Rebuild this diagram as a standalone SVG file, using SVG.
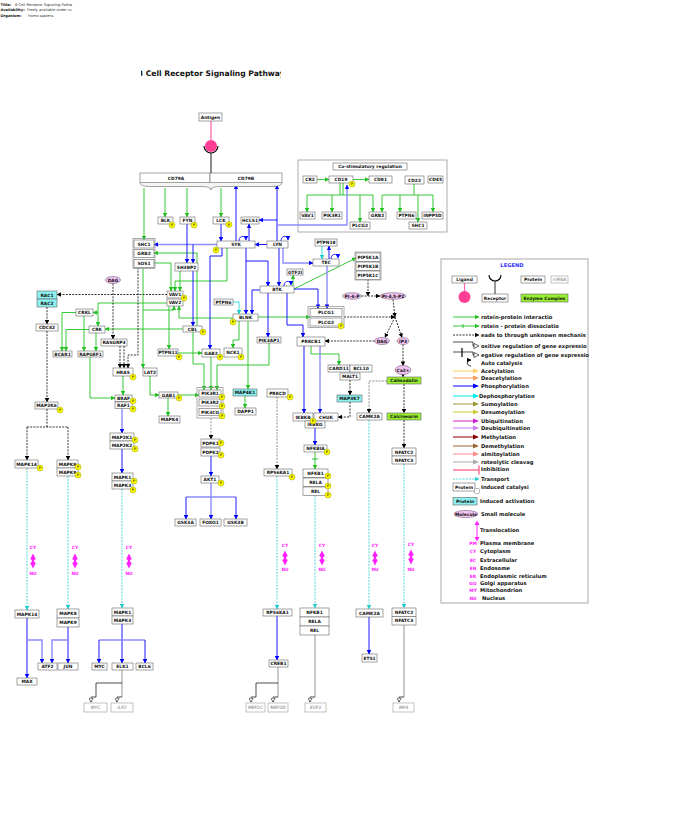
<svg xmlns="http://www.w3.org/2000/svg" width="698" height="814" viewBox="0 0 698 814">
<style>
.b{fill:#fff;stroke:#666;stroke-width:.6}
.cy{fill:#8ef0f0;stroke:#666;stroke-width:.6}
.gr{fill:#99ee33;stroke:#666;stroke-width:.6}
.sm{fill:#f2c4f2;stroke:#806080;stroke-width:.6}
.grp{fill:none;stroke:#999;stroke-width:.8}
.t{font-family:"DejaVu Sans",sans-serif;font-weight:bold;font-size:4.4px;text-anchor:middle;fill:#111}
.gt{font-family:"DejaVu Sans",sans-serif;font-style:italic;font-size:4.4px;text-anchor:middle;fill:#777}
.pc{fill:#ffff00;stroke:#999900;stroke-width:.5}
.pt{font-family:"DejaVu Sans",sans-serif;font-weight:bold;font-size:3.4px;text-anchor:middle;fill:#666600}
.G{fill:none;stroke:#22c022;stroke-width:.9;marker-end:url(#aG)}
.g{fill:none;stroke:#22c022;stroke-width:.9}
.B{fill:none;stroke:#0000ff;stroke-width:.9;marker-end:url(#aB)}
.L{fill:none;stroke:#8c8cff;stroke-width:1.4;marker-end:url(#aB)}
.l{fill:none;stroke:#8c8cff;stroke-width:1.4}
.K{fill:none;stroke:#000;stroke-width:.8;stroke-dasharray:2 1.2;marker-end:url(#aK)}
.k{fill:none;stroke:#000;stroke-width:.8;stroke-dasharray:2 1.2}
.Kg{fill:none;stroke:#777;stroke-width:.8;stroke-dasharray:2 1.2;marker-end:url(#aK)}
.C{fill:none;stroke:#22cccc;stroke-width:.8;stroke-dasharray:2 1.2;marker-end:url(#aC)}
.Cs{fill:none;stroke:#22dddd;stroke-width:.9;marker-end:url(#aC)}
.E{fill:none;stroke:#888;stroke-width:.9}
.e{fill:none;stroke:#000;stroke-width:.7}
.eo{fill:none;stroke:#000;stroke-width:.7;marker-end:url(#aO)}
.mg{font-family:"DejaVu Sans",sans-serif;font-weight:bold;font-size:4.4px;text-anchor:middle;fill:#ff22ff}
.lt{font-family:"DejaVu Sans",sans-serif;font-weight:bold;font-size:5.2px;fill:#111}
.hd{font-family:"DejaVu Sans",sans-serif;font-size:3.6px;fill:#333}
.hb{font-family:"DejaVu Sans",sans-serif;font-weight:bold;font-size:3.6px;fill:#111}
</style>
<defs>
<marker id="aG" viewBox="0 0 6 6" refX="5.5" refY="3" markerWidth="4.5" markerHeight="4.5" markerUnits="userSpaceOnUse" orient="auto"><path d="M0,0L6,3L0,6z" fill="#22c022"/></marker>
<marker id="aB" viewBox="0 0 6 6" refX="5.5" refY="3" markerWidth="4.5" markerHeight="4.5" markerUnits="userSpaceOnUse" orient="auto"><path d="M0,0L6,3L0,6z" fill="#0000ff"/></marker>
<marker id="aK" viewBox="0 0 6 6" refX="5.5" refY="3" markerWidth="4.5" markerHeight="4.5" markerUnits="userSpaceOnUse" orient="auto"><path d="M0,0L6,3L0,6z" fill="#000"/></marker>
<marker id="aC" viewBox="0 0 6 6" refX="5.5" refY="3" markerWidth="4.5" markerHeight="4.5" markerUnits="userSpaceOnUse" orient="auto"><path d="M0,0L6,3L0,6z" fill="#22cccc"/></marker>
<marker id="aO" viewBox="0 0 7 7" refX="6" refY="3.5" markerWidth="5" markerHeight="5" markerUnits="userSpaceOnUse" orient="auto"><path d="M0.5,0.5L6,3.5L0.5,6.5z" fill="#fff" stroke="#000" stroke-width=".8"/></marker>
<path id="tr" d="M0,-7.5L2.8,-2L1.2,-1L1.2,1L2.8,2L0,7.5L-2.8,2L-1.2,1L-1.2,-1L-2.8,-2Z" fill="#ff22ff"/>
<clipPath id="ctitle"><rect x="141" y="60" width="140" height="20"/></clipPath>
</defs>
<rect width="698" height="814" fill="#fff"/>

<g id="header">
<text x="0.5" y="5.5" class="hb">Title:</text><text x="15" y="5.5" class="hd">B Cell Receptor Signaling Pathw</text>
<text x="0.5" y="11" class="hb">Availability:</text><text x="27" y="11" class="hd">Freely available under cc</text>
<text x="0.5" y="16.5" class="hb">Organism:</text><text x="28" y="16.5" class="hd">Homo sapiens</text>
</g>
<g id="title" clip-path="url(#ctitle)"><text x="211" y="76" font-family="DejaVu Sans, sans-serif" font-weight="bold" font-size="7.6" text-anchor="middle" fill="#111">B Cell Receptor Signaling Pathway</text></g>

<g id="costim-box"><rect x="298" y="160" width="149" height="72" fill="none" stroke="#999" stroke-width=".8"/>
<rect x="333" y="163" width="74" height="7" class="b"/><text x="370" y="168.1" class="t">Co-stimulatory regulation</text></g>

<g id="connectors">
<path d="M211 121V140" stroke="#ff66aa" stroke-width="1.3" fill="none"/>
<path d="M204 146A7 7 0 0 0 218 146" stroke="#000" stroke-width="1.1" fill="none"/>
<path d="M211 153V173" stroke="#000" stroke-width=".9"/>
<!-- green -->
<path class="G" d="M144 188V240"/>
<path class="G" d="M165 188V217"/>
<path class="G" d="M187 188V217"/>
<path class="G" d="M221 188V217"/>
<path class="G" d="M317 179.5H329"/>
<path class="G" d="M353 179.5H369"/>
<path class="g" d="M340 183V195M343 183V195M307 195H373"/>
<path class="G" d="M307 195V212"/><path class="G" d="M332 195V212"/><path class="G" d="M360 195V222"/><path class="G" d="M373 195V212"/>
<path class="g" d="M414 184V195M382 195H433"/>
<path class="G" d="M382 195V212"/><path class="G" d="M400 195V212"/><path class="G" d="M418 195V222"/><path class="G" d="M433 195V212"/>
<path class="G" d="M154 263H171V291"/>
<path class="G" d="M180 271V291"/>
<path class="G" d="M227 248V281H175V291"/>
<path class="G" d="M197 326V253H154"/>
<path class="G" d="M143 267.5V368"/>
<path class="G" d="M143 310H174V306"/>
<path class="G" d="M233 318H179V306"/>
<path class="G" d="M169 306V349"/>
<path class="G" d="M167 303H98V326"/>
<path class="G" d="M98 312.5H93"/>
<path class="G" d="M183 329H105"/>
<path class="G" d="M76 312.5H62V351"/>
<path class="G" d="M89 329.5H66V351"/>
<path class="G" d="M84 316V351"/>
<path class="G" d="M96 333V351"/>
<path class="G" d="M123 376V395"/>
<path class="G" d="M90 357V398H115"/>
<path class="G" d="M150 376V395H159"/>
<path class="G" d="M168 398V416"/>
<path class="G" d="M178 395H199"/>
<path class="G" d="M178 353H202"/>
<path class="G" d="M211 357V390"/>
<path class="G" d="M193 332V364H204V390"/>
<path class="G" d="M269 343V365H217V390"/>
<path class="G" d="M239 321V340H233V348"/>
<path class="G" d="M248 321V389"/>
<path class="G" d="M245 396V408"/>
<path class="G" d="M258 317H310"/>
<path class="G" d="M293 286V275"/>
<path class="G" d="M294 289L356 258"/>
<path class="G" d="M311 346V354H339V365"/>
<path class="G" d="M315 452V469"/><path class="g" d="M312 459H318"/>
<!-- blue -->
<path class="B" d="M236 241V185"/>
<path class="B" d="M277 241V185"/>
<path class="B" d="M277 220H259"/>
<path class="B" d="M249 241V224"/>
<path class="B" d="M267 244.5H255"/>
<path class="L" d="M217 244.5H154"/>
<path class="B" d="M221 224V241"/>
<path class="B" d="M187 224V263"/>
<path class="B" d="M193 244.5V263"/>
<path class="B" d="M193 271V326"/>
<path class="B" d="M222 248V256H210V349"/>
<path class="B" d="M246 248V314"/>
<path class="B" d="M246 261H268V286"/>
<path class="B" d="M279 248V286"/>
<path class="L" d="M283 248V263H313"/>
<path class="L" d="M277 225H347V185"/>
<path class="B" d="M294 289H318V308.5"/>
<path class="L" d="M327 266V308.5"/>
<path class="B" d="M329 259V246"/>
<path class="B" d="M287 293V325H303V337"/>
<path class="B" d="M268 293V337"/>
<path class="B" d="M260 290H252V314"/>
<path class="B" d="M304 346V413"/>
<path class="L" d="M320 346V413"/>
<path class="B" d="M315 428V445"/>
<path class="L" d="M122 408.5V433"/>
<path class="B" d="M122 449V473"/>
<path class="B" d="M211 456V476"/>
<path class="l" d="M211 483V497M186 497H236"/>
<path class="B" d="M186 497V519"/><path class="L" d="M211 497V519"/><path class="B" d="M236 497V519"/>
<path class="B" d="M27 618V678"/><path class="L" d="M27 640H42V663"/>
<path class="B" d="M68 627V663"/><path class="L" d="M68 640H52V663"/>
<path class="B" d="M122 624V663"/><path class="l" d="M99 640H145"/><path class="B" d="M99 640V663"/><path class="B" d="M145 640V663"/>
<path class="B" d="M277 616V660"/>
<path class="B" d="M369 617V654"/>
<path class="B" d="M239 241c0-6 7-6 7-1"/>
<path class="B" d="M281 241c0-6 7-6 7-1"/>
<path class="B" d="M284 286c0-6 7-6 7-1"/>
<path class="B" d="M331 259c0-6 7-6 7-1"/>
<!-- cyan -->
<path class="Cs" d="M322 246V259"/>
<path class="Cs" d="M233 302H239V314"/>
<path class="C" d="M27 468V610"/>
<path class="C" d="M68 476V609"/>
<path class="C" d="M122 489V608"/>
<path class="C" d="M277 476V609"/>
<path class="C" d="M315 495.5V608"/>
<path class="C" d="M369 420V609"/>
<path class="C" d="M404 464V608"/>
<!-- black dashed -->
<path class="K" d="M167 294.5H57"/>
<path class="K" d="M47 307V324"/>
<path class="K" d="M47 331V402"/>
<path class="k" d="M47 409V427M27 427H68"/>
<path class="K" d="M27 427V460"/><path class="K" d="M68 427V460"/>
<path class="K" d="M113 283.5V339"/>
<path class="K" d="M120 346V368"/><path class="K" d="M124 346V368"/>
<path class="K" d="M138 267.5V355H128V368"/>
<path class="K" d="M361.5 296H380"/>
<path class="K" d="M368 279.5V296"/>
<path class="K" d="M344 317H395"/>
<path class="K" d="M393 299.5L395 317"/>
<path class="K" d="M395 317L385 337.5"/>
<path class="K" d="M395 317L402 337.5"/>
<path class="K" d="M374.5 341H325"/>
<path class="K" d="M403 344.5V365.5"/>
<path class="K" d="M403 374.5V377"/>
<path class="K" d="M404 384V413"/>
<path class="Kg" d="M387 381H369V413"/>
<path class="K" d="M350 380V395"/>
<path class="K" d="M350 402V417H338"/>
<path class="K" d="M404 420V448"/>
<path class="Kg" d="M277 397V469"/>
<path class="Kg" d="M211 418V439"/>
<!-- gene expression -->
<path class="E" d="M122 670V697M278 667V697M315 635V697M404 625V697"/>
<path class="e" d="M122 683H96V697M278 683H256V697"/>
<path class="eo" d="M96 697H91V702"/>
<path class="eo" d="M122 697H117V702"/>
<path class="eo" d="M256 697H251V702"/>
<path class="eo" d="M278 697H273V702"/>
<path class="eo" d="M315 697H310V702"/>
<path class="eo" d="M404 697H399V702"/>
</g>

<g id="translocations">
<text x="33" y="549" class="mg">CY</text><use href="#tr" x="33" y="561"/><text x="33" y="575" class="mg">NU</text>
<text x="75" y="549" class="mg">CY</text><use href="#tr" x="75" y="561"/><text x="75" y="575" class="mg">NU</text>
<text x="129" y="549" class="mg">CY</text><use href="#tr" x="129" y="561"/><text x="129" y="575" class="mg">NU</text>
<text x="285" y="547" class="mg">CY</text><use href="#tr" x="285" y="558"/><text x="285" y="571" class="mg">NU</text>
<text x="322" y="547" class="mg">CY</text><use href="#tr" x="322" y="558"/><text x="322" y="571" class="mg">NU</text>
<text x="375" y="547" class="mg">CY</text><use href="#tr" x="375" y="558"/><text x="375" y="571" class="mg">NU</text>
<text x="411" y="546" class="mg">CY</text><use href="#tr" x="411" y="557"/><text x="411" y="571" class="mg">NU</text>
</g>

<g id="Antigen"><rect x="199" y="113" width="23" height="8" class="b"/><text x="210.5" y="118.6" class="t">Antigen</text><circle cx="211" cy="146" r="6" fill="#ff3f96"/></g>
<g id="CD79"><path d="M140 182.5Q140 186.5 150 186.5H202Q211 186.5 211 190Q211 186.5 220 186.5H272Q282 186.5 282 182.5" fill="#f4f4f4" stroke="#666" stroke-width=".6"/><rect x="140" y="173" width="70" height="9.5" class="b"/><rect x="210" y="173" width="72" height="9.5" class="b"/><text x="176" y="179.5" class="t">CD79A</text><text x="246" y="179.5" class="t">CD79B</text></g>
<g id="BLK"><rect x="158" y="217" width="15" height="7" class="b"/><text x="165.5" y="222.1" class="t">BLK</text><circle cx="172" cy="225" r="3" class="pc"/><text x="172" y="226.2" class="pt">P</text></g>
<g id="FYN"><rect x="180" y="217" width="15" height="7" class="b"/><text x="187.5" y="222.1" class="t">FYN</text><circle cx="194" cy="225" r="3" class="pc"/><text x="194" y="226.2" class="pt">P</text></g>
<g id="LCK"><rect x="213" y="217" width="16" height="7" class="b"/><text x="221" y="222.1" class="t">LCK</text><circle cx="229" cy="224.5" r="3" class="pc"/><text x="229" y="225.7" class="pt">P</text></g>
<g id="HCLS1"><rect x="241" y="217" width="18" height="7" class="b"/><text x="250" y="222.1" class="t">HCLS1</text></g>
<g id="SYK"><rect x="217" y="241" width="38" height="7" class="b"/><text x="236" y="246.1" class="t">SYK</text><circle cx="216" cy="250" r="3" class="pc"/><text x="216" y="251.2" class="pt">P</text></g>
<g id="LYN"><rect x="267" y="241" width="21" height="7" class="b"/><text x="277.5" y="246.1" class="t">LYN</text></g>
<g id="SHC1-GRB2-SOS1"><rect x="133" y="238.5" width="22" height="30" class="grp"/><rect x="134" y="240" width="20" height="8" class="b"/><text x="144" y="245.6" class="t">SHC1</text><rect x="134" y="249.5" width="20" height="8" class="b"/><text x="144" y="255.1" class="t">GRB2</text><rect x="134" y="259.5" width="20" height="8" class="b"/><text x="144" y="265.1" class="t">SOS1</text></g>
<g id="SH3BP2"><rect x="175" y="263" width="23" height="8" class="b"/><text x="186.5" y="268.6" class="t">SH3BP2</text></g>
<g id="PTPN18"><rect x="315" y="239" width="22" height="7" class="b"/><text x="326" y="244.1" class="t">PTPN18</text></g>
<g id="TEC"><rect x="313" y="259" width="26" height="7" class="b"/><text x="326" y="264.1" class="t">TEC</text></g>
<g id="GTF2I"><rect x="287" y="269" width="16" height="6" class="b"/><text x="295" y="273.6" class="t">GTF2I</text></g>
<g id="PIP5K1"><rect x="355" y="252" width="26" height="28" class="grp"/><rect x="356" y="253" width="24" height="8.5" class="b"/><text x="368" y="258.8" class="t">PIP5K1A</text><rect x="356" y="262" width="24" height="8.5" class="b"/><text x="368" y="267.8" class="t">PIP5K1B</text><rect x="356" y="271" width="24" height="8.5" class="b"/><text x="368" y="276.8" class="t">PIP5K1C</text></g>
<g id="BTK"><rect x="260" y="286" width="34" height="7" class="b"/><text x="277" y="291.1" class="t">BTK</text></g>
<g id="PI4P"><ellipse cx="352" cy="296" rx="9.5" ry="3.3" class="sm"/><text x="352" y="297.5" class="t">PI-4-P</text></g>
<g id="PI45P2"><ellipse cx="393" cy="296" rx="13" ry="3.3" class="sm"/><text x="393" y="297.5" class="t">PI-4,5-P2</text></g>
<g id="CR2"><rect x="303" y="176" width="14" height="7" class="b"/><text x="310" y="181.1" class="t">CR2</text></g>
<g id="CD19"><rect x="329" y="176" width="24" height="7" class="b"/><text x="341" y="181.1" class="t">CD19</text><circle cx="352" cy="184" r="3" class="pc"/><text x="352" y="185.2" class="pt">P</text></g>
<g id="CD81"><rect x="369" y="176" width="23" height="7" class="b"/><text x="380.5" y="181.1" class="t">CD81</text></g>
<g id="CD22"><rect x="405" y="176" width="19" height="8" class="b"/><text x="414.5" y="181.6" class="t">CD22</text></g>
<g id="CD45"><rect x="428" y="176" width="15" height="7" class="b"/><text x="435.5" y="181.1" class="t">CD45</text></g>
<g id="VAV1-cs"><rect x="300" y="212" width="15" height="7" class="b"/><text x="307.5" y="217.1" class="t">VAV1</text></g>
<g id="PIK3R1-cs"><rect x="322" y="212" width="20" height="7" class="b"/><text x="332" y="217.1" class="t">PIK3R1</text></g>
<g id="PLCG2-cs"><rect x="350" y="222" width="20" height="7" class="b"/><text x="360" y="227.1" class="t">PLCG2</text></g>
<g id="GRB2-cs"><rect x="369" y="212" width="17" height="7" class="b"/><text x="377.5" y="217.1" class="t">GRB2</text></g>
<g id="PTPN6-cs"><rect x="397" y="212" width="19" height="7" class="b"/><text x="406.5" y="217.1" class="t">PTPN6</text></g>
<g id="SHC1-cs"><rect x="409" y="222" width="18" height="7" class="b"/><text x="418" y="227.1" class="t">SHC1</text></g>
<g id="INPP5D"><rect x="422" y="212" width="21" height="7" class="b"/><text x="432.5" y="217.1" class="t">INPP5D</text></g>
<g id="RAC1-RAC2"><rect x="37" y="291" width="20" height="8" class="cy"/><text x="47" y="296.6" class="t">RAC1</text><rect x="37" y="299" width="20" height="8" class="cy"/><text x="47" y="304.6" class="t">RAC2</text></g>
<g id="DAG-1"><ellipse cx="113" cy="280" rx="7.5" ry="3.5" class="sm"/><text x="113" y="281.6" class="t">DAG</text></g>
<g id="VAV1-VAV2"><rect x="167" y="291" width="16" height="7" class="b"/><text x="175" y="296.1" class="t">VAV1</text><rect x="167" y="299" width="16" height="7" class="b"/><text x="175" y="304.1" class="t">VAV2</text><circle cx="184" cy="298" r="3" class="pc"/><text x="184" y="299.2" class="pt">P</text></g>
<g id="PTPN6"><rect x="214" y="299" width="19" height="6" class="b"/><text x="223.5" y="303.6" class="t">PTPN6</text></g>
<g id="CRKL"><rect x="76" y="309" width="17" height="7" class="b"/><text x="84.5" y="314.1" class="t">CRKL</text></g>
<g id="PLCG1-PLCG2"><rect x="308" y="306.5" width="36" height="21" class="grp"/><rect x="310" y="308.5" width="32" height="8" class="b"/><text x="326" y="314.1" class="t">PLCG1</text><rect x="310" y="318" width="32" height="8" class="b"/><text x="326" y="323.6" class="t">PLCG2</text><circle cx="341" cy="326" r="3" class="pc"/><text x="341" y="327.2" class="pt">P</text></g>
<g id="BLNK"><rect x="233" y="314" width="25" height="7" class="b"/><text x="245.5" y="319.1" class="t">BLNK</text><circle cx="233" cy="322" r="3" class="pc"/><text x="233" y="323.2" class="pt">P</text></g>
<g id="CDC42"><rect x="36" y="324" width="22" height="7" class="b"/><text x="47" y="329.1" class="t">CDC42</text></g>
<g id="CRK"><rect x="89" y="326" width="16" height="7" class="b"/><text x="97" y="331.1" class="t">CRK</text></g>
<g id="CBL"><rect x="183" y="326" width="19" height="6" class="b"/><text x="192.5" y="330.6" class="t">CBL</text><circle cx="203" cy="332" r="3" class="pc"/><text x="203" y="333.2" class="pt">P</text></g>
<g id="RASGRP3"><rect x="101" y="339" width="26" height="7" class="b"/><text x="114" y="344.1" class="t">RASGRP3</text></g>
<g id="PIK3AP1"><rect x="257" y="337" width="24" height="6" class="b"/><text x="269" y="341.6" class="t">PIK3AP1</text></g>
<g id="PRKCB1"><rect x="297" y="337" width="28" height="9" class="b"/><text x="311" y="343.1" class="t">PRKCB1</text></g>
<g id="DAG-2"><ellipse cx="382" cy="341" rx="7.5" ry="3.5" class="sm"/><text x="382" y="342.6" class="t">DAG</text></g>
<g id="IP3"><ellipse cx="403" cy="341" rx="6" ry="3.5" class="sm"/><text x="403" y="342.6" class="t">IP3</text></g>
<g id="PTPN11"><rect x="158" y="349" width="20" height="7" class="b"/><text x="168" y="354.1" class="t">PTPN11</text><circle cx="179" cy="357" r="3" class="pc"/><text x="179" y="358.2" class="pt">P</text></g>
<g id="GAB2"><rect x="202" y="349" width="18" height="8" class="b"/><text x="211" y="354.6" class="t">GAB2</text><circle cx="220" cy="357" r="3" class="pc"/><text x="220" y="358.2" class="pt">P</text></g>
<g id="NCK1"><rect x="224" y="348" width="18" height="9" class="b"/><text x="233" y="354.1" class="t">NCK1</text><circle cx="241" cy="357" r="3" class="pc"/><text x="241" y="358.2" class="pt">P</text></g>
<g id="BCAR1"><rect x="53" y="351" width="19" height="6" class="b"/><text x="62.5" y="355.6" class="t">BCAR1</text></g>
<g id="RAPGEF1"><rect x="78" y="351" width="25" height="6" class="b"/><text x="90.5" y="355.6" class="t">RAPGEF1</text></g>
<g id="CARD11-BCL10-MALT1"><rect x="328" y="365" width="22" height="7" class="b"/><text x="339" y="370.1" class="t">CARD11</text><rect x="350" y="365" width="22" height="7" class="b"/><text x="361" y="370.1" class="t">BCL10</text><rect x="340" y="373" width="20" height="7" class="b"/><text x="350" y="378.1" class="t">MALT1</text></g>
<g id="Ca2"><ellipse cx="403" cy="370" rx="8" ry="4.5" class="sm"/><text x="403" y="371.6" class="t">Ca2+</text></g>
<g id="HRAS"><rect x="113" y="368" width="20" height="8" class="b"/><text x="123" y="373.6" class="t">HRAS</text><circle cx="133" cy="377" r="3" class="pc"/><text x="133" y="378.2" class="pt">P</text></g>
<g id="LAT2"><rect x="143" y="368" width="14" height="8" class="b"/><text x="150" y="373.6" class="t">LAT2</text></g>
<g id="Calmodulin"><rect x="387" y="377" width="34" height="7" class="gr"/><text x="404" y="382.1" class="t">Calmodulin</text></g>
<g id="PRKCD"><rect x="267" y="389" width="21" height="8" class="b"/><text x="277.5" y="394.6" class="t">PRKCD</text><circle cx="290" cy="397" r="3" class="pc"/><text x="290" y="398.2" class="pt">P</text></g>
<g id="MAP4K1"><rect x="233" y="389" width="24" height="7" class="cy"/><text x="245" y="394.1" class="t">MAP4K1</text></g>
<g id="GAB1"><rect x="159" y="392" width="19" height="6" class="b"/><text x="168.5" y="396.6" class="t">GAB1</text><circle cx="179" cy="398" r="3" class="pc"/><text x="179" y="399.2" class="pt">P</text></g>
<g id="PIK3"><rect x="197" y="387.5" width="26" height="30.5" class="grp"/><rect x="199" y="390" width="22" height="7" class="b"/><text x="210" y="395.1" class="t">PIK3R1</text><rect x="199" y="399" width="22" height="7" class="b"/><text x="210" y="404.1" class="t">PIK3R2</text><rect x="199" y="408.5" width="22" height="7" class="b"/><text x="210" y="413.6" class="t">PIK3CG</text><circle cx="222" cy="397" r="3" class="pc"/><text x="222" y="398.2" class="pt">P</text><circle cx="222" cy="406" r="3" class="pc"/><text x="222" y="407.2" class="pt">P</text><circle cx="222" cy="416" r="3" class="pc"/><text x="222" y="417.2" class="pt">P</text></g>
<g id="MAP3K7"><rect x="337" y="395" width="25" height="7" class="cy"/><text x="349.5" y="400.1" class="t">MAP3K7</text></g>
<g id="BRAF-RAF1"><rect x="115" y="395" width="17" height="6.5" class="b"/><text x="123.5" y="399.9" class="t">BRAF</text><rect x="115" y="402" width="17" height="6.5" class="b"/><text x="123.5" y="406.9" class="t">RAF1</text><circle cx="133" cy="401" r="3" class="pc"/><text x="133" y="402.2" class="pt">P</text><circle cx="133" cy="409" r="3" class="pc"/><text x="133" y="410.2" class="pt">P</text></g>
<g id="MAP2K6"><rect x="35" y="402" width="23" height="7" class="b"/><text x="46.5" y="407.1" class="t">MAP2K6</text><circle cx="60" cy="410" r="3" class="pc"/><text x="60" y="411.2" class="pt">P</text></g>
<g id="DAPP1"><rect x="235" y="408" width="21" height="7" class="b"/><text x="245.5" y="413.1" class="t">DAPP1</text></g>
<g id="CAMK2A"><rect x="357" y="413" width="25" height="7" class="b"/><text x="369.5" y="418.1" class="t">CAMK2A</text></g>
<g id="Calcineurin"><rect x="387" y="413" width="34" height="7" class="gr"/><text x="404" y="418.1" class="t">Calcineurin</text></g>
<g id="IKK"><rect x="293" y="413" width="20" height="8" class="b"/><text x="303" y="418.6" class="t">IKBKB</text><rect x="314" y="413" width="24" height="8" class="b"/><text x="326" y="418.6" class="t">CHUK</text><rect x="305" y="421" width="20" height="7" class="b"/><text x="315" y="426.1" class="t">IKBKG</text><circle cx="313" cy="421" r="3" class="pc"/><text x="313" y="422.2" class="pt">P</text></g>
<g id="MAPK4"><rect x="159" y="416" width="21" height="7" class="b"/><text x="169.5" y="421.1" class="t">MAPK4</text></g>
<g id="MAP2K1-MAP2K2"><rect x="110" y="433" width="24" height="8" class="b"/><text x="122" y="438.6" class="t">MAP2K1</text><rect x="110" y="441" width="24" height="8" class="b"/><text x="122" y="446.6" class="t">MAP2K2</text><circle cx="135" cy="440" r="3" class="pc"/><text x="135" y="441.2" class="pt">P</text><circle cx="135" cy="449" r="3" class="pc"/><text x="135" y="450.2" class="pt">P</text></g>
<g id="PDPK"><rect x="201" y="439" width="19" height="8" class="b"/><text x="210.5" y="444.6" class="t">PDPK1</text><rect x="201" y="448" width="19" height="8" class="b"/><text x="210.5" y="453.6" class="t">PDPK2</text><circle cx="221" cy="443" r="3" class="pc"/><text x="221" y="444.2" class="pt">P</text><circle cx="221" cy="455" r="3" class="pc"/><text x="221" y="456.2" class="pt">P</text></g>
<g id="NFKBIA"><rect x="304" y="445" width="23" height="7" class="b"/><text x="315.5" y="450.1" class="t">NFKBIA</text><circle cx="327" cy="452" r="3" class="pc"/><text x="327" y="453.2" class="pt">P</text></g>
<g id="NFATC-cy"><rect x="392" y="448" width="24" height="8" class="b"/><text x="404" y="453.6" class="t">NFATC2</text><rect x="392" y="456" width="24" height="8" class="b"/><text x="404" y="461.6" class="t">NFATC3</text></g>
<g id="MAPK14-cy"><rect x="15" y="460" width="23" height="8" class="b"/><text x="26.5" y="465.6" class="t">MAPK14</text><circle cx="40" cy="468" r="3" class="pc"/><text x="40" y="469.2" class="pt">P</text></g>
<g id="MAPK8-cy"><rect x="57" y="460" width="21" height="8" class="b"/><text x="67.5" y="465.6" class="t">MAPK8</text><rect x="57" y="468" width="21" height="8" class="b"/><text x="67.5" y="473.6" class="t">MAPK9</text><circle cx="78" cy="467" r="3" class="pc"/><text x="78" y="468.2" class="pt">P</text><circle cx="78" cy="475" r="3" class="pc"/><text x="78" y="476.2" class="pt">P</text></g>
<g id="NFKB-cy"><rect x="303" y="469" width="25" height="8.5" class="b"/><text x="315.5" y="474.8" class="t">NFKB1</text><rect x="303" y="478" width="25" height="8.5" class="b"/><text x="315.5" y="483.8" class="t">RELA</text><rect x="303" y="487" width="25" height="8.5" class="b"/><text x="315.5" y="492.8" class="t">REL</text><circle cx="328" cy="476" r="3" class="pc"/><text x="328" y="477.2" class="pt">P</text><circle cx="328" cy="486" r="3" class="pc"/><text x="328" y="487.2" class="pt">P</text><circle cx="328" cy="495" r="3" class="pc"/><text x="328" y="496.2" class="pt">P</text></g>
<g id="RPS6KA1-cy"><rect x="264" y="469" width="28" height="7" class="b"/><text x="278" y="474.1" class="t">RPS6KA1</text><circle cx="292" cy="477" r="3" class="pc"/><text x="292" y="478.2" class="pt">P</text></g>
<g id="MAPK1-cy"><rect x="112" y="473" width="21" height="8" class="b"/><text x="122.5" y="478.6" class="t">MAPK1</text><rect x="112" y="481" width="21" height="8" class="b"/><text x="122.5" y="486.6" class="t">MAPK3</text><circle cx="134" cy="481" r="3" class="pc"/><text x="134" y="482.2" class="pt">P</text><circle cx="133" cy="490" r="3" class="pc"/><text x="133" y="491.2" class="pt">P</text></g>
<g id="AKT1"><rect x="201" y="476" width="18" height="7" class="b"/><text x="210" y="481.1" class="t">AKT1</text><circle cx="221" cy="483" r="3" class="pc"/><text x="221" y="484.2" class="pt">P</text></g>
<g id="GSK3A"><rect x="175" y="519" width="21" height="7" class="b"/><text x="185.5" y="524.1" class="t">GSK3A</text></g>
<g id="FOXO1"><rect x="200" y="519" width="21" height="7" class="b"/><text x="210.5" y="524.1" class="t">FOXO1</text></g>
<g id="GSK3B"><rect x="224" y="519" width="23" height="7" class="b"/><text x="235.5" y="524.1" class="t">GSK3B</text></g>
<g id="MAPK14-nu"><rect x="15" y="610" width="24" height="8" class="b"/><text x="27" y="615.6" class="t">MAPK14</text></g>
<g id="MAPK8-nu"><rect x="57" y="609" width="22" height="9" class="b"/><text x="68" y="615.1" class="t">MAPK8</text><rect x="57" y="618" width="22" height="9" class="b"/><text x="68" y="624.1" class="t">MAPK9</text></g>
<g id="MAPK1-nu"><rect x="112" y="608" width="21" height="8" class="b"/><text x="122.5" y="613.6" class="t">MAPK1</text><rect x="112" y="616" width="21" height="8" class="b"/><text x="122.5" y="621.6" class="t">MAPK3</text></g>
<g id="RPS6KA1-nu"><rect x="263" y="609" width="29" height="7" class="b"/><text x="277.5" y="614.1" class="t">RPS6KA1</text></g>
<g id="NFKB-nu"><rect x="300" y="608" width="29" height="9" class="b"/><text x="314.5" y="614.1" class="t">NFKB1</text><rect x="300" y="617" width="29" height="9" class="b"/><text x="314.5" y="623.1" class="t">RELA</text><rect x="300" y="626" width="29" height="9" class="b"/><text x="314.5" y="632.1" class="t">REL</text></g>
<g id="CAMK2A-nu"><rect x="356" y="609" width="27" height="8" class="b"/><text x="369.5" y="614.6" class="t">CAMK2A</text></g>
<g id="NFATC-nu"><rect x="392" y="608" width="24" height="8.5" class="b"/><text x="404" y="613.8" class="t">NFATC2</text><rect x="392" y="616.5" width="24" height="8.5" class="b"/><text x="404" y="622.3" class="t">NFATC3</text></g>
<g id="ATF2"><rect x="38" y="663" width="19" height="7" class="b"/><text x="47.5" y="668.1" class="t">ATF2</text></g>
<g id="JUN"><rect x="58" y="663" width="20" height="7" class="b"/><text x="68" y="668.1" class="t">JUN</text></g>
<g id="MAX"><rect x="17" y="678" width="20" height="7" class="b"/><text x="27" y="683.1" class="t">MAX</text></g>
<g id="MYC"><rect x="92" y="663" width="15" height="7" class="b"/><text x="99.5" y="668.1" class="t">MYC</text></g>
<g id="ELK1"><rect x="112" y="663" width="21" height="7" class="b"/><text x="122.5" y="668.1" class="t">ELK1</text></g>
<g id="BCL6"><rect x="136" y="663" width="17" height="7" class="b"/><text x="144.5" y="668.1" class="t">BCL6</text></g>
<g id="CREB1"><rect x="269" y="660" width="19" height="7" class="b"/><text x="278.5" y="665.1" class="t">CREB1</text></g>
<g id="ETS1"><rect x="362" y="654" width="15" height="8" class="b"/><text x="369.5" y="659.6" class="t">ETS1</text></g>
<g id="gene-MYC"><rect x="84" y="703" width="23" height="9" fill="#fff" stroke="#999" stroke-width=".6"/><text x="95.5" y="709.1" class="gt">MYC</text></g>
<g id="gene-ILF2"><rect x="111" y="703" width="22" height="9" fill="#fff" stroke="#999" stroke-width=".6"/><text x="122" y="709.1" class="gt">ILF2</text></g>
<g id="gene-MEF2C"><rect x="246" y="703" width="19" height="9" fill="#fff" stroke="#999" stroke-width=".6"/><text x="255.5" y="709.1" class="gt">MEF2C</text></g>
<g id="gene-MEF2D"><rect x="268" y="703" width="20" height="9" fill="#fff" stroke="#999" stroke-width=".6"/><text x="278" y="709.1" class="gt">MEF2D</text></g>
<g id="gene-E2F3"><rect x="305" y="703" width="21" height="9" fill="#fff" stroke="#999" stroke-width=".6"/><text x="315.5" y="709.1" class="gt">E2F3</text></g>
<g id="gene-IRF4"><rect x="393" y="703" width="21" height="9" fill="#fff" stroke="#999" stroke-width=".6"/><text x="403.5" y="709.1" class="gt">IRF4</text></g>

<g id="legend">
<rect x="441" y="259" width="147" height="344" fill="#fff" stroke="#aaa" stroke-width="1"/>
<text x="512" y="266.5" font-family="DejaVu Sans, sans-serif" font-weight="bold" font-size="5.2" text-anchor="middle" fill="#3333ff">LEGEND</text>
<rect x="452" y="276" width="25" height="7" class="b"/><text x="464.5" y="281.1" class="t">Ligand</text>
<path d="M464.5 283V292" stroke="#ff66aa" stroke-width="1.2"/><circle cx="464.5" cy="297" r="6" fill="#ff3f96"/>
<path d="M489 275A6 6 0 0 0 501 275" stroke="#000" stroke-width="1.1" fill="none"/><path d="M495 281V294" stroke="#000" stroke-width=".8"/>
<rect x="482" y="294" width="26" height="8" class="b"/><text x="495" y="299.6" class="t">Receptor</text>
<rect x="521" y="276" width="24" height="7" class="b"/><text x="533" y="281.1" class="t">Protein</text>
<rect x="551" y="276" width="17" height="7" fill="#fff" stroke="#999" stroke-width=".6"/><text x="559.5" y="281.1" class="gt">mRNA</text>
<rect x="521" y="294" width="47" height="8" class="gr"/><text x="544.5" y="299.6" class="t">Enzyme Complex</text>
<path class="G" d="M453 317H479"/><text x="481" y="318.9" class="lt">rotein-protein interactio</text>
<path class="G" d="M453 326H479"/><path class="g" d="M463 324V328"/><text x="481" y="327.9" class="lt">rotein - protein dissociatio</text>
<path class="K" d="M453 335H479"/><text x="481" y="336.9" class="lt">eads to through unknown mechanis</text>
<path class="e" d="M453 342H473V346H474"/><path d="M474 343.5L479 346L474 348.5Z" fill="#fff" stroke="#000" stroke-width=".6"/><text x="481" y="347.9" class="lt">ositive regulation of gene expressio</text>
<path class="e" d="M453 352H473V355H474"/><path d="M462 348V357" stroke="#000" stroke-width="1.2"/><path d="M474 352.5L479 355L474 357.5Z" fill="#fff" stroke="#000" stroke-width=".6"/><text x="481" y="356.9" class="lt">egative regulation of gene expressio</text>
<path d="M471 366c-5 0-5-6 0-6" fill="none" stroke="#000" stroke-width=".8" marker-end="url(#aK)"/><text x="481" y="364.9" class="lt">Auto catalysis</text>
<path d="M453 371H474" stroke="#ffcc66" stroke-width="1"/><path d="M473 368.5L479 371L473 373.5Z" fill="#ffcc66"/><text x="481" y="372.9" class="lt">Acetylation</text>
<path d="M453 378H474" stroke="#ff9955" stroke-width="1"/><path d="M473 375.5L479 378L473 380.5Z" fill="#ff9955"/><text x="481" y="379.9" class="lt">Deacetylation</text>
<path d="M453 386H474" stroke="#0000ff" stroke-width="1"/><path d="M473 383.5L479 386L473 388.5Z" fill="#0000ff"/><text x="481" y="387.9" class="lt">Phosphorylation</text>
<path d="M453 396H474" stroke="#00eeee" stroke-width="1"/><path d="M473 393.5L479 396L473 398.5Z" fill="#00eeee"/><text x="479" y="397.9" class="lt">Dephosphorylation</text>
<path d="M453 404H474" stroke="#999933" stroke-width="1"/><path d="M473 401.5L479 404L473 406.5Z" fill="#999933"/><text x="481" y="405.9" class="lt">Sumoylation</text>
<path d="M453 412H474" stroke="#cccc33" stroke-width="1"/><path d="M473 409.5L479 412L473 414.5Z" fill="#cccc33"/><text x="481" y="413.9" class="lt">Desumoylation</text>
<path d="M453 421H474" stroke="#cc22cc" stroke-width="1"/><path d="M473 418.5L479 421L473 423.5Z" fill="#cc22cc"/><text x="481" y="422.9" class="lt">Ubiquitination</text>
<path d="M453 428H474" stroke="#cc77ee" stroke-width="1"/><path d="M473 425.5L479 428L473 430.5Z" fill="#cc77ee"/><text x="481" y="429.9" class="lt">Deubiquitination</text>
<path d="M453 437H474" stroke="#880000" stroke-width="1"/><path d="M473 434.5L479 437L473 439.5Z" fill="#880000"/><text x="481" y="438.9" class="lt">Methylation</text>
<path d="M453 446H474" stroke="#996633" stroke-width="1"/><path d="M473 443.5L479 446L473 448.5Z" fill="#996633"/><text x="481" y="447.9" class="lt">Demethylation</text>
<path d="M453 454H474" stroke="#ff8888" stroke-width="1"/><path d="M473 451.5L479 454L473 456.5Z" fill="#ff8888"/><text x="481" y="455.9" class="lt">almitoylation</text>
<path d="M453 462H474" stroke="#aaaaaa" stroke-width="1"/><path d="M473 459.5L479 462L473 464.5Z" fill="#aaaaaa"/><text x="481" y="463.9" class="lt">roteolytic cleavag</text>
<path d="M453 470H479" stroke="#ff3366" stroke-width="1"/><path d="M479 465.5V474.5" stroke="#ff3366" stroke-width="1"/><text x="481" y="471.4" class="lt">Inhibition</text>
<path class="C" d="M453 479H479"/><text x="481" y="480.9" class="lt">Transport</text>
<rect x="453" y="483" width="22" height="8" class="b"/><text x="464" y="488.6" class="t">Protein</text><rect x="474.5" y="488.5" width="5" height="5" rx="1.2" fill="#fff" stroke="#888" stroke-width=".6"/><text x="481" y="488.9" class="lt">Induced catalysi</text>
<rect x="453" y="497.5" width="24" height="7.5" class="cy"/><text x="465" y="502.9" class="t">Protein</text><text x="480" y="502.9" class="lt">Induced activation</text>
<ellipse cx="466" cy="514" rx="12" ry="3.6" class="sm"/><text x="466" y="515.6" class="t">Molecule</text><text x="481" y="515.9" class="lt">Small molecule</text>
<path d="M477 524V538" stroke="#ff22ff" stroke-width="1"/><path d="M474.5 525L477 520.5L479.5 525Z" fill="#ff22ff"/><path d="M474.5 537L477 541.5L479.5 537Z" fill="#ff22ff"/><text x="480" y="531.9" class="lt">Translocation</text>
<text x="473" y="544.6" class="mg">PM</text><text x="480" y="544.9" class="lt">Plasma membrane</text>
<text x="473" y="552.6" class="mg">CY</text><text x="480" y="552.9" class="lt">Cytoplasm</text>
<text x="473" y="561.6" class="mg">EC</text><text x="480" y="561.9" class="lt">Extracellular</text>
<text x="473" y="569.6" class="mg">EN</text><text x="480" y="569.9" class="lt">Endosome</text>
<text x="473" y="577.6" class="mg">ER</text><text x="480" y="577.9" class="lt">Endoplasmic reticulum</text>
<text x="473" y="584.6" class="mg">GO</text><text x="480" y="584.9" class="lt">Golgi apparatus</text>
<text x="473" y="591.6" class="mg">MT</text><text x="480" y="591.9" class="lt">Mitochondrion</text>
<text x="473" y="599.6" class="mg">NU</text><text x="482" y="599.9" class="lt">Nucleus</text>
</g>
</svg>
